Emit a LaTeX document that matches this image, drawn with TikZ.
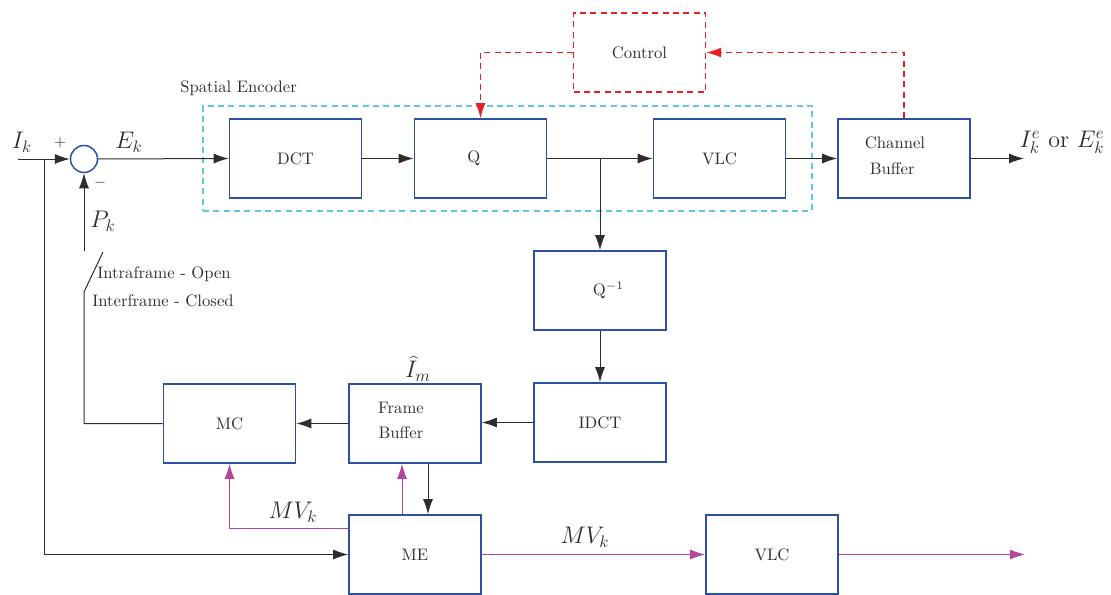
\documentclass[tikz,border=0pt]{standalone}
\usetikzlibrary{arrows.meta,calc}
\definecolor{boxblue}{RGB}{45,80,165}
\definecolor{enccyan}{RGB}{100,200,220}
\definecolor{ctlred}{RGB}{235,30,35}
\definecolor{mvmag}{RGB}{180,70,160}
\definecolor{ink}{RGB}{45,45,45}
\begin{document}
\begin{tikzpicture}[x=0.6pt,y=-0.6pt,
  blk/.style={draw=boxblue,line width=1pt,minimum width=79.2pt,minimum height=47.4pt,inner sep=0pt,text=ink,font=\normalsize},
  txt/.style={text=ink,inner sep=0pt,align=center},
  mlab/.style={text=ink,inner sep=0pt,font=\Large},
  con/.style={draw=ink,line width=0.6pt},
  arr/.style={con,-{Latex[length=9pt,width=6pt]}},
  mag/.style={draw=mvmag,line width=0.6pt,-{Latex[length=9pt,width=6pt]},color=mvmag},
  reddash/.style={draw=ctlred,line width=0.8pt,dash pattern=on 3.6pt off 2.6pt},
  redarr/.style={reddash,-{Latex[length=9pt,width=6pt]},color=ctlred},
]
\useasboundingbox (0,0) rectangle (1111,595);
% spatial encoder frame
\node[draw=enccyan,line width=0.8pt,dash pattern=on 3.6pt off 2.6pt,minimum width=365.4pt,minimum height=63pt,inner sep=0pt] (enc) at (507.5,158.5) {};
\node[txt,anchor=west] (enclab) at (180,88) {Spatial Encoder};
% blocks
\node[blk] (dct) at (295.5,158.5) {DCT};
\node[blk] (q) at (480.5,158.5) {\hspace*{-8pt}Q};
\node[blk] (vlc) at (719.5,158.5) {VLC};
\node[blk] (cb) at (904,158.5) {};
\node[txt,align=left] (cbt) at (895,155.5) {Channel\\[3.5pt]\hspace*{3pt}Buffer};
\node[blk,draw=ctlred,line width=0.8pt,dash pattern=on 3.6pt off 2.6pt] (ctrl) at (639.5,52.5) {Control};
\node[blk] (qi) at (600,290.5) {\hspace*{10pt}Q$^{-1}$};
\node[blk] (idct) at (600,422.5) {IDCT};
\node[blk] (fb) at (415,423.5) {};
\node[txt] (fbt) at (401,420.5) {Frame\\[2.5pt]Buffer};
\node[blk] (mc) at (229.5,423.5) {MC};
\node[blk] (me) at (415,554.5) {ME};
\node[blk] (vlc2) at (772,554.5) {VLC};
% summing junction
\node[draw=boxblue,line width=0.9pt,circle,minimum size=16.2pt,inner sep=0pt] (sum) at (84,159) {};
% coordinates
\coordinate (in) at (18,159);
\coordinate (br) at (44,159);
\coordinate (sw0) at (84,251);
\coordinate (sw1) at (84,292);
\coordinate (sw2) at (103,252);
\coordinate (out) at (1024,158.5);
\coordinate (out2) at (1025,554.5);
% labels
\node[mlab] (lik) at (22,142) {$I_k$};
\node[txt,font=\small] (lplus) at (60,143) {$+$};
\node[mlab] (lek) at (129,142) {$E_k$};
\node[txt,font=\small] (lminus) at (100,183) {$-$};
\node[mlab] (lpk) at (103,221) {$P_k$};
\node[txt,anchor=west] (lintra) at (97,274) {Intraframe - Open};
\node[txt,anchor=west] (linter) at (92,301) {Interframe - Closed};
\node[mlab] (lout) at (1062,142) {$I_k^e$ or $E_k^e$};
\node[mlab] (lim) at (418,369) {$\widehat{I}_m$};
\node[mlab] (lmv1) at (293,512) {$MV_k$};
\node[mlab] (lmv2) at (585,537) {$MV_k$};
% connectors
\draw[arr] (in) -- (sum.west);
\draw[arr] (br) |- (me.west);
\draw[arr] (sum.east) -- (dct.west);
\draw[arr] (dct.east) -- (q.west);
\draw[arr] (q.east) -- (vlc.west);
\draw[arr] (q.east -| qi.north) -- (qi.north);
\draw[arr] (vlc.east) -- (cb.west);
\draw[arr] (cb.east) -- (out);
\draw[arr] (qi.south) -- (idct.north);
\draw[arr] (idct.west) -- (idct.west -| fb.east);
\draw[arr] (fb.west) -- (mc.west -| mc.east);
\draw[arr] ([xshift=7.8pt]fb.south) -- ([xshift=7.8pt]me.north);
\draw[mag] ([xshift=-7.8pt]me.north) -- ([xshift=-7.8pt]fb.south);
\draw[mag] ([yshift=15.6pt]me.west) -| (mc.south);
\draw[mag] (me.east) -- (vlc2.west);
\draw[mag] (vlc2.east) -- (out2);
\draw[arr] (sw0) -- (sum.south);
\draw[con] (mc.west) -| (sw1) -- (sw2);
\draw[redarr] (ctrl.west) -| (q.north);
\draw[redarr] (cb.north) |- (ctrl.east);
\end{tikzpicture}
\end{document}
